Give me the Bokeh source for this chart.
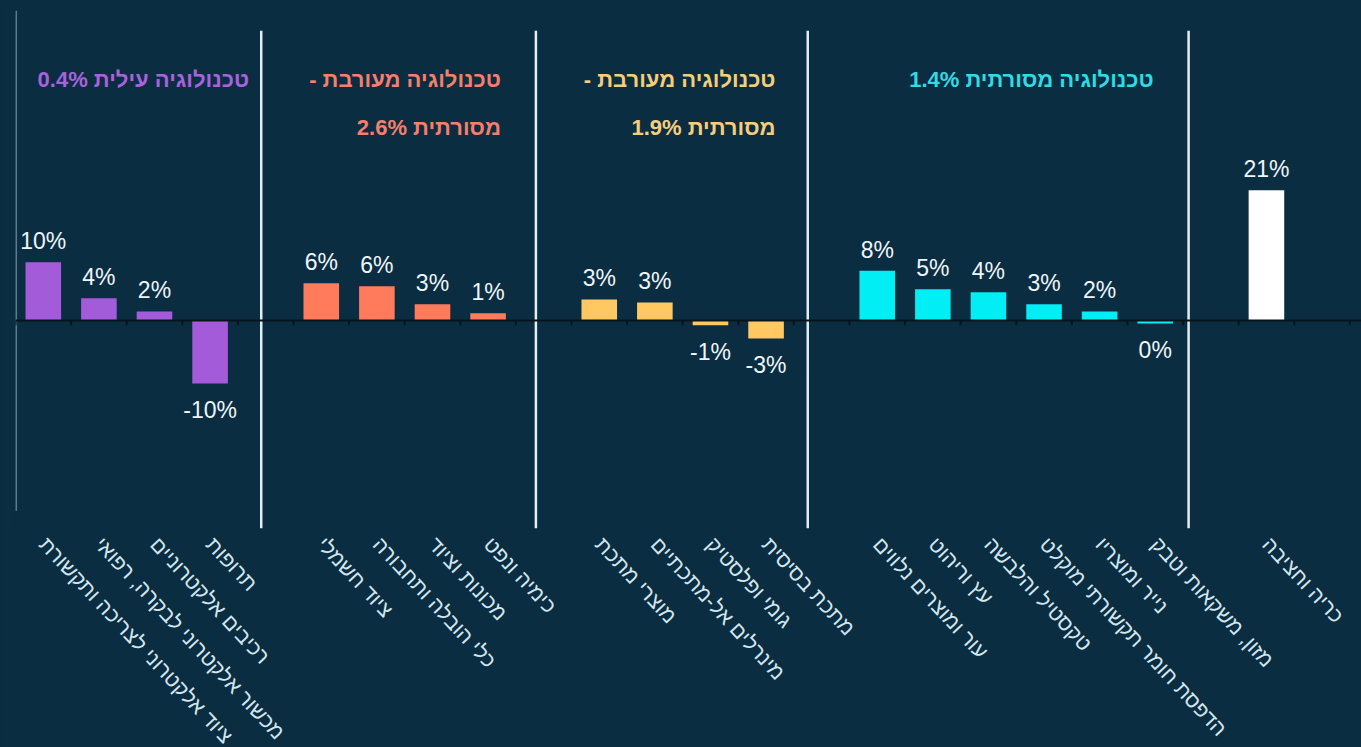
import numpy as np
from bokeh.plotting import figure
from bokeh.models import ColumnDataSource, Span, FixedTicker, Range1d
from bokeh.core.properties import value
from bokeh.embed import file_html
from bokeh.resources import INLINE

# ---------------- data ----------------
high_cats = ["ציוד אלקטרוני לצריכה ותקשורת", "מכשור אלקטרוני לבקרה, רפואי", "רכיבים אלקטרוניים", "תרופות"]
high_vals = [9.7, 3.7, 1.5, -10.5]
high_labels = ["10%", "4%", "2%", "-10%"]

midhigh_cats = ["ציוד חשמלי", "כלי הובלה ותחבורה", "מכונות וציוד", "כימיה ונפט"]
midhigh_vals = [6.2, 5.7, 2.7, 1.2]
midhigh_labels = ["6%", "6%", "3%", "1%"]

midlow_cats = ["מוצרי מתכת", "מינרלים אל-מתכתיים", "גומי ופלסטיק", "מתכת בסיסית"]
midlow_vals = [3.5, 3.0, -0.8, -3.0]
midlow_labels = ["3%", "3%", "-1%", "-3%"]

low_cats = ["עור ומוצרים נלווים", "עץ וריהוט", "טקסטיל והלבשה", "הדפסת חומר תקשורתי מוקלט", "נייר ומוצריו", "מזון, משקאות וטבק"]
low_vals = [8.3, 5.2, 4.7, 2.7, 1.5, -0.5]
low_labels = ["8%", "5%", "4%", "3%", "2%", "0%"]

mining_cats = ["כריה וחציבה"]
mining_vals = [21.7]
mining_labels = ["21%"]

group_titles = [
    "טכנולוגיה עילית 0.4%",
    "טכנולוגיה מעורבת -\u200f\nמסורתית 2.6%",
    "טכנולוגיה מעורבת -\u200f\nמסורתית 1.9%",
    "טכנולוגיה מסורתית 1.4%",
]

# ---------------- styling / layout ----------------
BG = "#0b2d42"
bar_colors = ["#a45bd9", "#ff7b5c", "#ffc862", "#00eef4", "#ffffff"]
title_colors = ["#a862dc", "#f4806a", "#f6cd7c", "#2fdbe4"]
FONT = "Liberation Sans"

groups = [
    (high_cats, high_vals, high_labels),
    (midhigh_cats, midhigh_vals, midhigh_labels),
    (midlow_cats, midlow_vals, midlow_labels),
    (low_cats, low_vals, low_labels),
    (mining_cats, mining_vals, mining_labels),
]

xs, vals, labs, cols, names = [], [], [], [], []
group_last = []
k = 0
for gi, (c, v, l) in enumerate(groups):
    for j in range(len(c)):
        xs.append(k)
        vals.append(v[j])
        labs.append(l[j])
        cols.append(bar_colors[gi])
        names.append(c[j])
        k += 1
    group_last.append(k - 1)
    k += 1  # gap slot between groups

src = ColumnDataSource(dict(x=xs, v=vals, lbl=labs, color=cols))

Y_TOP, Y_BOT = 51.67, -34.67
X_START, X_END = -0.5, 23.71

p = figure(
    frame_width=1346, frame_height=518,
    x_range=Range1d(X_START, X_END), y_range=Range1d(Y_BOT, Y_TOP),
    output_backend="svg", toolbar_location=None,
    min_border_left=15, min_border_right=0, min_border_top=10, min_border_bottom=0,
)
p.background_fill_color = BG
p.border_fill_color = BG
p.outline_line_color = None
p.grid.visible = False
p.yaxis.visible = False

# left frame line and group separators (decorative)
p.segment(x0=[X_START + 0.01], x1=[X_START + 0.01], y0=[-31.7], y1=[Y_TOP], line_color="#5e7b8d", line_width=2)
sep_offsets = [0.42, 0.36, 0.25, 0.1]
sep_x = [group_last[i] + sep_offsets[i] + 0.5 for i in range(4)]
p.segment(x0=sep_x, x1=sep_x, y0=[Y_BOT] * 4, y1=[48.3] * 4, line_color="#e4edf2", line_width=2.5)

# bars
p.vbar(x="x", top="v", bottom=0, width=0.64, fill_color="color", line_color=None, source=src)

# zero axis line with small ticks at slot boundaries
p.add_layout(Span(location=0, dimension="width", line_color="#07141c", line_width=2))
tick_x = np.arange(X_START, X_END, 1.0)
p.segment(x0=tick_x, x1=tick_x, y0=0, y1=-0.8, line_color="#07141c", line_width=2)

# value labels
pos = [i for i in range(len(vals)) if vals[i] >= 0]
neg = [i for i in range(len(vals)) if vals[i] < 0]
src_pos = ColumnDataSource(dict(x=[xs[i] for i in pos], v=[vals[i] for i in pos], lbl=[labs[i] for i in pos]))
src_neg = ColumnDataSource(dict(x=[xs[i] for i in neg], v=[vals[i] for i in neg], lbl=[labs[i] for i in neg]))
p.text(x="x", y="v", text="lbl", source=src_pos, text_align="center", text_baseline="alphabetic",
       y_offset=-21, text_color="#eef6f9", text_font=value(FONT), text_font_size="23px")
p.text(x="x", y="v", text="lbl", source=src_neg, text_align="center", text_baseline="top",
       y_offset=14, text_color="#eef6f9", text_font=value(FONT), text_font_size="23px")

# group titles (right aligned)
title_right = [group_last[0] + 0.7, group_last[1] + 0.23, group_last[2] + 0.17, group_last[3] - 0.03]
src_t = ColumnDataSource(dict(x=title_right, y=[42.3] * 4, t=group_titles, c=title_colors))
p.text(x="x", y="y", text="t", source=src_t, text_color="c", text_align="right", text_baseline="top",
       text_font=value(FONT), text_font_size="22px", text_font_style="bold", text_line_height=1.95)

# category axis labels
p.xaxis.ticker = FixedTicker(ticks=xs)
p.xaxis.major_label_overrides = {x: n for x, n in zip(xs, names)}
p.xaxis.major_label_orientation = -0.82
p.xaxis.axis_line_color = None
p.xaxis.major_tick_line_color = None
p.xaxis.minor_tick_line_color = None
p.xaxis.major_label_standoff = 6
p.xaxis.major_label_text_color = "#d3e6ee"
p.xaxis.major_label_text_font = FONT
p.xaxis.major_label_text_font_size = "21px"

html = file_html(p, INLINE)
html = html.replace("</head>", "<style>html, body { background-color: %s !important; }</style></head>" % BG, 1)
open("out.html", "w").write(html)
